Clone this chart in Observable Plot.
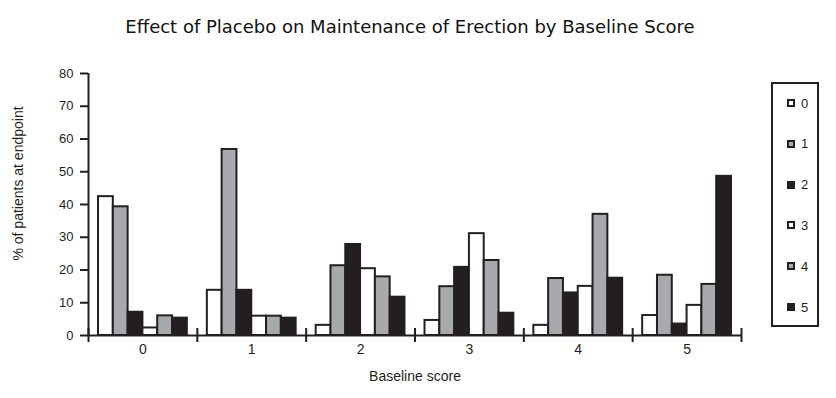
<!DOCTYPE html>
<html>
<head>
<meta charset="utf-8">
<script src="https://cdn.jsdelivr.net/npm/d3@7"></script>
<script src="https://cdn.jsdelivr.net/npm/@observablehq/plot@0.6"></script>
<style>
  body { margin: 0; background: #fff; }
  #wrap { position: relative; width: 836px; height: 398px; overflow: hidden; }
  #title { position: absolute; left: 0; top: 18px; width: 820px; text-align: center;
           font-family: "DejaVu Sans"; font-size: 18px; line-height: 18px; color: #111; }
  #legend { position: absolute; left: 771px; top: 82px; width: 44px; height: 241px;
            border: 2px solid #231f20; }
  .item { position: absolute; left: 14px; height: 16px; display: flex; align-items: center;
          font-family: "Liberation Sans", Arial, sans-serif; font-size: 13px; color: #231f20; }
  .sw { width: 4px; height: 4px; border: 2px solid #231f20; margin-right: 6px; }
  #chart { position: absolute; left: 0; top: 0; }
</style>
</head>
<body>
<div id="wrap">
  <div id="chart"></div>
  <div id="title"></div>
  <div id="legend"></div>
</div>
<script>
const title = "Effect of Placebo on Maintenance of Erection by Baseline Score";
const xLabel = "Baseline score";
const yLabel = "% of patients at endpoint";
const groups = ["0", "1", "2", "3", "4", "5"];
const series = ["0", "1", "2", "3", "4", "5"];
const seriesColors = ["#ffffff", "#a7a9ac", "#231f20", "#ffffff", "#a7a9ac", "#231f20"];
const yTicks = [0, 10, 20, 30, 40, 50, 60, 70, 80];

const s0 = [42.4, 13.8, 3.1, 4.6, 3.1, 6.1];
const s1 = [39.3, 56.8, 21.3, 14.9, 17.4, 18.4];
const s2 = [7.1, 13.8, 27.8, 20.8, 13.0, 3.5];
const s3 = [2.3, 5.9, 20.4, 31.1, 15.0, 9.2];
const s4 = [6.0, 5.9, 17.9, 22.9, 37.0, 15.6];
const s5 = [5.3, 5.3, 11.7, 6.8, 17.5, 48.6];
const seriesValues = [s0, s1, s2, s3, s4, s5];

const ink = "#231f20";
const barW = 0.136;
const startOff = -(barW * series.length) / 2;

const rows = [];
seriesValues.forEach((vals, s) => {
  vals.forEach((v, g) => rows.push({g, s, value: v}));
});
const xDomain = [-0.5, groups.length - 0.5];
const bounds = d3.range(groups.length + 1).map(i => i - 0.5);

const chart = Plot.plot({
  width: 836,
  height: 398,
  marginLeft: 88,
  marginRight: 95,
  marginTop: 73,
  marginBottom: 63,
  style: {fontFamily: "'Liberation Sans', Arial, sans-serif", fontSize: "14px", color: ink, background: "transparent"},
  x: {type: "linear", domain: xDomain},
  y: {domain: [0, 80]},
  color: {type: "identity"},
  marks: [
    Plot.rectY(rows, {
      x1: d => d.g + startOff + d.s * barW,
      x2: d => d.g + startOff + (d.s + 1) * barW,
      y1: 0,
      y2: "value",
      fill: d => seriesColors[d.s],
      stroke: ink,
      strokeWidth: 2
    }),
    Plot.ruleX([xDomain[0]], {y1: 0, y2: 80, stroke: ink, strokeWidth: 2}),
    Plot.ruleY([0], {x1: xDomain[0], x2: xDomain[1], stroke: ink, strokeWidth: 2}),
    Plot.ruleX(bounds, {y1: 0, y2: 0, insetTop: -7, insetBottom: -7, stroke: ink, strokeWidth: 2}),
    Plot.axisY({ticks: yTicks, tickSize: 8, tickPadding: 7, strokeWidth: 2, stroke: ink, label: null, fontSize: 13}),
    Plot.axisX({ticks: d3.range(groups.length), tickSize: 0, tickPadding: 9, tickFormat: i => groups[i], label: null, fontSize: 14}),
    Plot.text([xLabel], {frameAnchor: "bottom", dy: 45, fontSize: 14, fill: ink}),
    Plot.text([yLabel], {frameAnchor: "left", textAnchor: "middle", rotate: -90, dx: -70, dy: -21, fontSize: 14, fill: ink})
  ]
});
document.getElementById("chart").appendChild(chart);
document.getElementById("title").textContent = title;

const legend = document.getElementById("legend");
series.forEach((s, i) => {
  const item = document.createElement("div");
  item.className = "item";
  item.style.top = (21 - 2 + i * 40.8 - 8) + "px";
  const sw = document.createElement("span");
  sw.className = "sw";
  sw.style.background = seriesColors[i];
  const t = document.createElement("span");
  t.textContent = s;
  item.appendChild(sw);
  item.appendChild(t);
  legend.appendChild(item);
});
</script>
</body>
</html>
